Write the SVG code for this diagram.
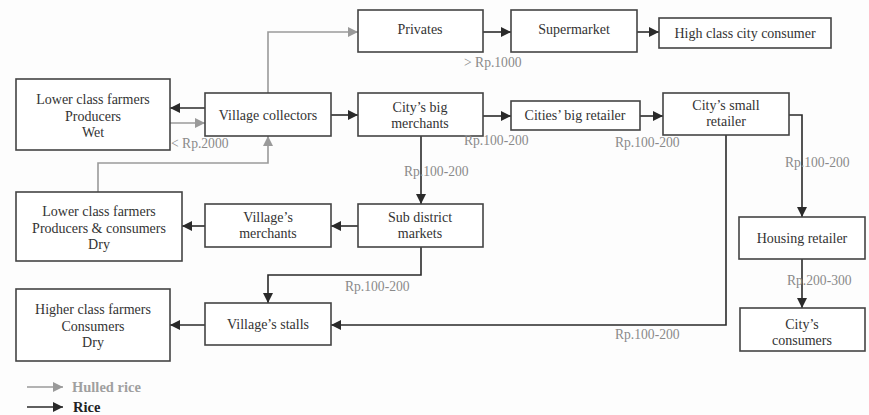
<svg xmlns="http://www.w3.org/2000/svg" width="869" height="415" viewBox="0 0 869 415">
<defs>
<marker id="ab" viewBox="0 0 10 10" refX="10" refY="5" markerWidth="11" markerHeight="10" markerUnits="userSpaceOnUse" orient="auto"><path d="M0,0 L10,5 L0,10 Z" fill="#2a2a2a"/></marker>
<marker id="ag" viewBox="0 0 10 10" refX="10" refY="5" markerWidth="11" markerHeight="10" markerUnits="userSpaceOnUse" orient="auto"><path d="M0,0 L10,5 L0,10 Z" fill="#9a9a9a"/></marker>
</defs>
<style>
.box{fill:#ffffff;stroke:#444;stroke-width:1.6}
.t{font-family:"Liberation Serif","DejaVu Serif",serif;font-size:14px;fill:#333;text-anchor:middle}
.lbl{font-family:"Liberation Serif","DejaVu Serif",serif;font-size:13.6px;fill:#8a8a8a}
.cb{fill:none;stroke:#2a2a2a;stroke-width:1.6;marker-end:url(#ab)}
.cg{fill:none;stroke:#9a9a9a;stroke-width:1.6;marker-end:url(#ag)}
.lg{font-family:"Liberation Serif","DejaVu Serif",serif;font-size:14.5px;font-weight:bold}
</style>
<rect width="869" height="415" fill="#fdfdfd"/>
<g id="connectors">
<path class="cg" d="M268,93 V32 H358"/>
<path class="cb" d="M483,32 H511"/>
<path class="cb" d="M637,32 H659"/>
<path class="cb" d="M205,108 H170"/>
<path class="cg" d="M170,123 H205"/>
<path class="cg" d="M98,192 V163 H268 V136"/>
<path class="cb" d="M331,115 H358"/>
<path class="cb" d="M483,116 H511"/>
<path class="cb" d="M640,116 H663"/>
<path class="cb" d="M789,115 H802 V217"/>
<path class="cb" d="M802,259 V308"/>
<path class="cb" d="M421,136 V204"/>
<path class="cb" d="M358,226 H331"/>
<path class="cb" d="M205,226 H182"/>
<path class="cb" d="M421,247 V275 H268 V303"/>
<path class="cb" d="M726,135 V325 H331"/>
<path class="cb" d="M205,325 H170"/>
</g>
<g id="n_wet"><rect class="box" x="16" y="79" width="154" height="71"/>
<text class="t" x="93" y="104">Lower class farmers</text><text class="t" x="93" y="121">Producers</text><text class="t" x="93" y="137">Wet</text></g>
<g id="n_vc"><rect class="box" x="205" y="93" width="126" height="43"/><text class="t" x="268" y="120">Village collectors</text></g>
<g id="n_priv"><rect class="box" x="358" y="10" width="125" height="42"/><text class="t" x="420" y="34">Privates</text></g>
<g id="n_super"><rect class="box" x="511" y="10" width="126" height="42"/><text class="t" x="574" y="34">Supermarket</text></g>
<g id="n_high"><rect class="box" x="659" y="18" width="172" height="30"/><text class="t" x="745" y="38">High class city consumer</text></g>
<g id="n_cbm"><rect class="box" x="358" y="93" width="125" height="43"/><text class="t" x="420" y="112">City’s big</text><text class="t" x="420" y="128">merchants</text></g>
<g id="n_cbr"><rect class="box" x="511" y="101" width="129" height="29"/><text class="t" x="575" y="120">Cities’ big retailer</text></g>
<g id="n_csr"><rect class="box" x="663" y="93" width="126" height="42"/><text class="t" x="726" y="110">City’s small</text><text class="t" x="726" y="126">retailer</text></g>
<g id="n_dry"><rect class="box" x="16" y="192" width="166" height="69"/>
<text class="t" x="99" y="216">Lower class farmers</text><text class="t" x="99" y="233">Producers &amp; consumers</text><text class="t" x="99" y="249">Dry</text></g>
<g id="n_vm"><rect class="box" x="205" y="204" width="126" height="43"/><text class="t" x="268" y="222">Village’s</text><text class="t" x="268" y="238">merchants</text></g>
<g id="n_sdm"><rect class="box" x="358" y="204" width="125" height="43"/><text class="t" x="420" y="222">Sub district</text><text class="t" x="420" y="238">markets</text></g>
<g id="n_hcf"><rect class="box" x="16" y="289" width="154" height="72"/>
<text class="t" x="93" y="314">Higher class farmers</text><text class="t" x="93" y="331">Consumers</text><text class="t" x="93" y="347">Dry</text></g>
<g id="n_vs"><rect class="box" x="205" y="303" width="126" height="42"/><text class="t" x="268" y="329">Village’s stalls</text></g>
<g id="n_hr"><rect class="box" x="739" y="217" width="126" height="42"/><text class="t" x="802" y="243">Housing retailer</text></g>
<g id="n_cc"><rect class="box" x="740" y="308" width="125" height="43"/><text class="t" x="802" y="329">City’s</text><text class="t" x="802" y="345">consumers</text></g>
<g id="labels">
<text class="lbl" x="171" y="148">&lt; Rp.2000</text>
<text class="lbl" x="464" y="67">&gt; Rp.1000</text>
<text class="lbl" x="464" y="145">Rp.100-200</text>
<text class="lbl" x="615" y="147">Rp.100-200</text>
<text class="lbl" x="404" y="176">Rp.100-200</text>
<text class="lbl" x="785" y="167">Rp.100-200</text>
<text class="lbl" x="345" y="291">Rp.100-200</text>
<text class="lbl" x="787" y="285">Rp.200-300</text>
<text class="lbl" x="615" y="339">Rp.100-200</text>
</g>
<g id="legend">
<path class="cg" d="M27,387 H63"/>
<text class="lg" x="72" y="392" fill="#a0a0a0">Hulled rice</text>
<path class="cb" d="M27,407 H63"/>
<text class="lg" x="73" y="412" fill="#222">Rice</text>
</g>
</svg>
